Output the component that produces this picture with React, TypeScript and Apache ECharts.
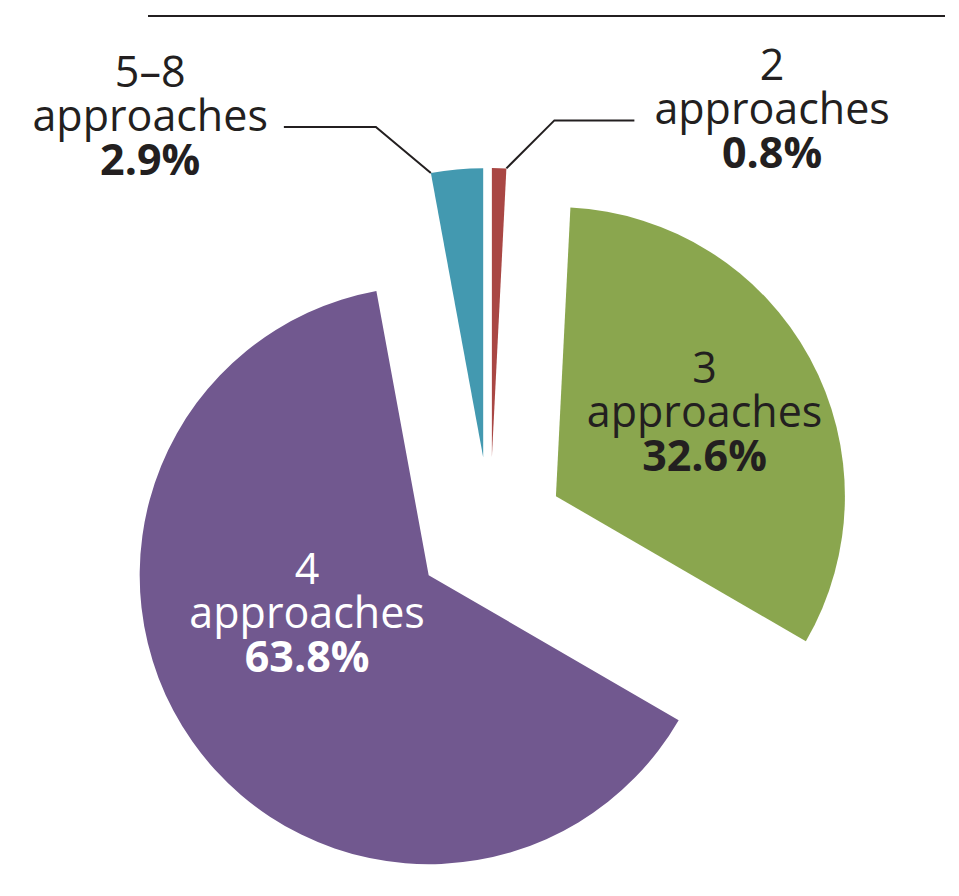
import React, { useEffect, useRef } from "react";
import * as echarts from "echarts";

// ---- data ----
const categories = ["2 approaches", "3 approaches", "4 approaches", "5–8 approaches"];
const countLabels = ["2", "3", "4", "5–8"];
const shares = [0.8, 32.6, 63.8, 2.9];

// ---- styles ----
const sliceColors = ["#a94744", "#8aa64e", "#71588f", "#4399b0"];
const textColors = ["#231f20", "#231f20", "#ffffff", "#231f20"];
const outsideLabel = [true, false, false, true];
const INK = "#231f20";
const FONT = '"Open Sans", sans-serif';
const FONT_SIZE = 43;
const LINE_HEIGHT = 44;

// ---- layout ----
const CENTER = [490, 532];
const RADIUS = 289;
const EXPLODE = 75;
const insideNudge: (number[] | null)[] = [null, [19, -15], [-1, -49], null];
const leaders: any[] = [
  { dx: 48, dy: -48, len: 80, gap: 20, side: 1, lift: -13 },
  null,
  null,
  { dx: -55, dy: -46, len: 92, gap: 16, side: -1, lift: -13 },
];

const total = shares.reduce((a, b) => a + b, 0);
const starts: number[] = [];
{
  let acc = 0;
  shares.forEach((v) => {
    starts.push((acc / total) * 360);
    acc += v;
  });
}
const ends = starts.map((s, i) => s + (shares[i] / total) * 360);
const mids = starts.map((s, i) => (s + ends[i]) / 2);
const dir = (deg: number) => [Math.sin((deg * Math.PI) / 180), -Math.cos((deg * Math.PI) / 180)];
const centers = mids.map((m) => {
  const d = dir(m);
  return [CENTER[0] + EXPLODE * d[0], CENTER[1] + EXPLODE * d[1]];
});

function makeRich(color: string) {
  return {
    n: { fontFamily: FONT, fontSize: FONT_SIZE, lineHeight: LINE_HEIGHT, color, align: "center" },
    p: {
      fontFamily: FONT,
      fontSize: FONT_SIZE,
      lineHeight: LINE_HEIGHT,
      color,
      fontWeight: "bold",
      align: "center",
    },
  };
}

export default function App() {
  const ref = useRef<HTMLDivElement>(null);
  useEffect(() => {
    if (!ref.current) return;
    const chart = echarts.init(ref.current, null, { renderer: "svg" });
    const series = shares.map((_, k) => ({
      type: "pie",
      name: categories[k],
      center: centers[k],
      radius: RADIUS,
      startAngle: 90,
      clockwise: true,
      avoidLabelOverlap: false,
      silent: true,
      minShowLabelAngle: 0,
      itemStyle: { borderWidth: 0 },
      emphasis: { disabled: true },
      labelLayout: (p: any) => {
        if (p.dataIndex !== k) return {};
        const r = p.labelRect;
        if (!outsideLabel[k]) {
          const n = insideNudge[k] || [0, 0];
          return {
            x: r.x + r.width / 2 + n[0],
            y: r.y + r.height / 2 + n[1],
            align: "center",
            verticalAlign: "middle",
          };
        }
        const L = leaders[k];
        const cornerAngle = L.side > 0 ? ends[k] : starts[k];
        const d = dir(cornerAngle);
        const p0 = [centers[k][0] + RADIUS * d[0], centers[k][1] + RADIUS * d[1]];
        const p1 = [p0[0] + L.dx, p0[1] + L.dy];
        const p2 = [p1[0] + L.side * L.len, p1[1]];
        return {
          x: p2[0] + L.side * L.gap,
          y: p2[1] + L.lift,
          align: L.side > 0 ? "left" : "right",
          verticalAlign: "middle",
          labelLinePoints: [p0, p1, p2],
        };
      },
      data: shares.map((v, i) => ({
        name: categories[i],
        value: v,
        itemStyle: { color: i === k ? sliceColors[i] : "rgba(0,0,0,0)", borderWidth: 0 },
        label:
          i === k
            ? {
                show: true,
                position: outsideLabel[i] ? "outside" : "inside",
                color: textColors[i],
                fontFamily: FONT,
                fontSize: FONT_SIZE,
                lineHeight: LINE_HEIGHT,
                formatter: `{n|${countLabels[i]}}\n{n|approaches}\n{p|${shares[i].toFixed(1)}%}`,
                rich: makeRich(textColors[i]),
              }
            : { show: false },
        labelLine: {
          show: i === k && outsideLabel[i],
          length: 20,
          length2: 20,
          lineStyle: { color: INK, width: 2 },
        },
      })),
    }));
    chart.setOption({
      animation: false,
      backgroundColor: "#ffffff",
      graphic: [
        {
          type: "line",
          shape: { x1: 148, y1: 16, x2: 945, y2: 16 },
          style: { stroke: INK, lineWidth: 2 },
        },
      ],
      series,
    } as any);
    return () => chart.dispose();
  }, []);
  return (
    <div
      ref={ref}
      style={{ position: "fixed", left: 0, top: 0, width: 959, height: 896, background: "#fff" }}
    />
  );
}
